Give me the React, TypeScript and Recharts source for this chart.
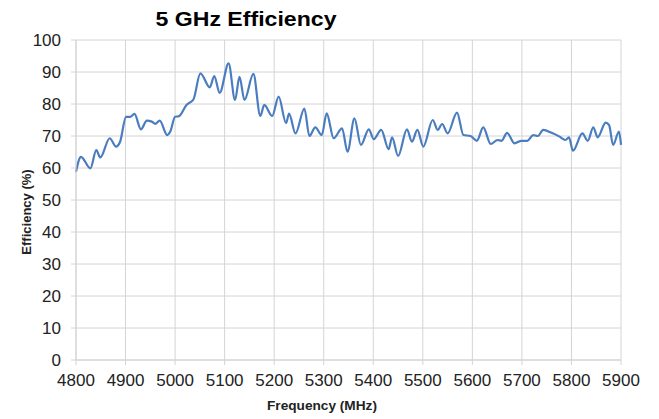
import React from 'react'
import { CartesianGrid, Line, LineChart, XAxis, YAxis } from 'recharts'

// Frequency (MHz) sample points and measured efficiency (%)
const frequencies = [
  4800, 4810, 4829, 4841, 4849, 4868, 4881, 4889, 4901, 4910, 4918, 4931, 4943, 4953, 4960, 4969,
  4984, 4990, 5000, 5008, 5023, 5037, 5051, 5070, 5079, 5090, 5108, 5121, 5130, 5140, 5158, 5172,
  5180, 5196, 5209, 5224, 5230, 5243, 5261, 5271, 5283, 5296, 5306, 5320, 5337, 5348, 5362, 5375,
  5391, 5401, 5416, 5431, 5438, 5450, 5468, 5478, 5489, 5501, 5520, 5530, 5539, 5550, 5569, 5582,
  5596, 5609, 5622, 5637, 5651, 5659, 5670, 5685, 5699, 5711, 5723, 5732, 5743, 5760, 5776, 5788,
  5795, 5803, 5822, 5833, 5844, 5853, 5869, 5876, 5884, 5896, 5900,
]
const efficiency = [
  58.8, 63.5, 59.9, 65.6, 63.3, 69.3, 66.7, 68.2, 76, 76, 76.9, 72.1, 74.8, 74.5, 73.8, 74.8,
  70.3, 71.3, 76, 76.2, 79.7, 81.4, 89.6, 85.2, 88.75, 83.5, 92.7, 81.25, 88.5, 81.25, 89.4, 76.25,
  79.7, 76.25, 82.3, 74, 77, 70.8, 78.6, 70, 72.7, 70.3, 77.1, 69.3, 72.4, 65.1, 75.5, 67.2,
  72.1, 69, 71.9, 65.9, 69.6, 63.75, 72.1, 68.2, 71.9, 66.7, 75, 71.9, 73.75, 70.8, 77.3, 70.3,
  70, 68.5, 72.7, 67.5, 68.75, 68.5, 71, 67.7, 68.5, 68.5, 70.3, 70, 71.9, 71, 69.8, 68.75,
  69.6, 65.4, 70.8, 68.5, 72.7, 69.6, 74.2, 73.4, 67.2, 71.4, 67.2,
]
const xTicks = [4800, 4900, 5000, 5100, 5200, 5300, 5400, 5500, 5600, 5700, 5800, 5900]
const yTicks = [0, 10, 20, 30, 40, 50, 60, 70, 80, 90, 100]

const data = frequencies.map((f, i) => ({ f, eff: efficiency[i] }))

const FONT = '"Liberation Sans", Arial, sans-serif'
const GRID = '#d4d4d4'

export default function App() {
  return (
    <div style={{ position: 'relative', width: 659, height: 419, background: '#fff', fontFamily: FONT }}>
      <style>{'body{margin:0}'}</style>

      {/* Title */}
      <div style={{ position: 'absolute', left: 146, top: 7, width: 200, textAlign: 'center',
        fontSize: 21, fontWeight: 'bold', color: '#000', transform: 'scaleX(1.1)', lineHeight: '24px' }}>
        5 GHz Efficiency
      </div>

      <LineChart
        width={659}
        height={419}
        data={data}
        margin={{ top: 40, right: 38, bottom: 0, left: 0 }}
      >
        <CartesianGrid stroke={GRID} strokeWidth={1} />
        <XAxis
          dataKey="f"
          type="number"
          domain={[4800, 5900]}
          ticks={xTicks}
          interval={0}
          height={59}
          stroke={GRID}
          tickSize={5}
          tickMargin={9}
          tick={{ fill: '#222', fontSize: 17, fontFamily: FONT }}
        />
        <YAxis
          type="number"
          domain={[0, 100]}
          ticks={yTicks}
          interval={0}
          width={76}
          stroke={GRID}
          tickSize={5}
          tickMargin={10}
          tick={{ fill: '#222', fontSize: 17, fontFamily: FONT }}
        />
        <Line
          type="monotone"
          dataKey="eff"
          stroke="#4a7dbf"
          strokeWidth={2.2}
          dot={false}
          isAnimationActive={false}
        />
      </LineChart>

      {/* Axis titles */}
      <div style={{ position: 'absolute', left: 222, top: 398, width: 200, textAlign: 'center',
        fontSize: 13, fontWeight: 'bold', color: '#222', transform: 'scaleX(1.05)', lineHeight: '15px' }}>
        Frequency (MHz)
      </div>
      <div style={{ position: 'absolute', left: 27, top: 212, width: 0, height: 0 }}>
        <div style={{ position: 'absolute', left: -100, top: -8, width: 200, textAlign: 'center',
          transform: 'rotate(-90deg)', fontSize: 13, fontWeight: 'bold', color: '#222', lineHeight: '16px' }}>
          Efficiency (%)
        </div>
      </div>
    </div>
  )
}
